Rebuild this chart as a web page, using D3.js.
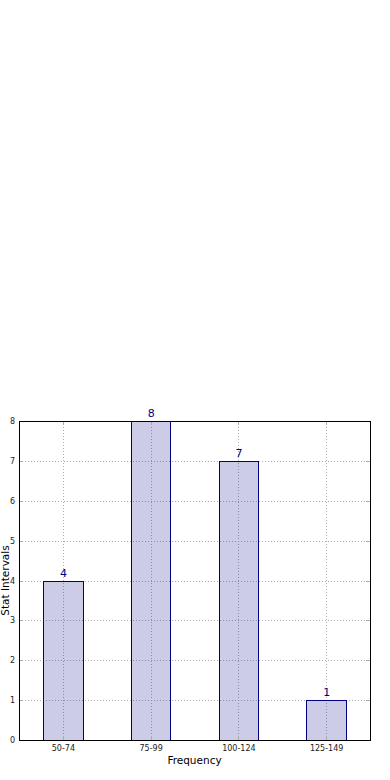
<!DOCTYPE html>
<html>
<head>
<meta charset="utf-8">
<script src="https://cdn.jsdelivr.net/npm/d3@7"></script>
<style>
  body { margin: 0; background: #fff; }
  svg text { font-family: "DejaVu Sans", sans-serif; }
</style>
</head>
<body>
<svg id="chart" width="390" height="780"></svg>
<script>
// Data
const categories = ["50-74", "75-99", "100-124", "125-149"];
const counts = [4, 8, 7, 1];
const yTicks = [0, 1, 2, 3, 4, 5, 6, 7, 8];

const plot = { left: 19, right: 370, top: 421, bottom: 740 };

const svg = d3.select("#chart");

// x positions like a bar chart with xlim -0.5..n-0.5
const x = d3.scaleLinear()
  .domain([-0.5, categories.length - 0.5])
  .range([plot.left, plot.right]);
const barW = 0.45;

const y = d3.scaleLinear().domain([0, 8]).range([plot.bottom, plot.top]);

// grid (under the see-through bars)
const grid = svg.append("g")
  .attr("stroke", "#b0b0b0")
  .attr("stroke-width", 1)
  .attr("stroke-dasharray", "1,2");

grid.selectAll("line.h")
  .data(yTicks)
  .enter()
  .append("line")
  .attr("x1", plot.left)
  .attr("x2", plot.right)
  .attr("y1", (d) => Math.round(y(d)) + 0.5)
  .attr("y2", (d) => Math.round(y(d)) + 0.5);

grid.selectAll("line.v")
  .data(categories)
  .enter()
  .append("line")
  .attr("x1", (d, i) => Math.round(x(i)) + 0.5)
  .attr("x2", (d, i) => Math.round(x(i)) + 0.5)
  .attr("y1", plot.top)
  .attr("y2", plot.bottom);

// bars: navy at 20% fill, solid navy edge
svg.selectAll("rect.bar")
  .data(counts)
  .enter()
  .append("rect")
  .attr("class", "bar")
  .attr("x", (d, i) => Math.round(x(i - barW / 2)) + 0.5)
  .attr("y", (d) => Math.round(y(d)) + 0.5)
  .attr("width", (d, i) => Math.round(x(i + barW / 2)) - Math.round(x(i - barW / 2)))
  .attr("height", (d) => Math.round(y(0)) - Math.round(y(d)))
  .attr("fill", "#000080")
  .attr("fill-opacity", 0.2)
  .attr("stroke", "#000080")
  .attr("stroke-width", 1);

// ticks: inward on all four sides
const ticks = svg.append("g").attr("stroke", "#aaaaaa").attr("stroke-width", 1);
yTicks.forEach((t) => {
  const yy = Math.round(y(t)) + 0.5;
  ticks.append("line").attr("x1", plot.left).attr("x2", plot.left + 4).attr("y1", yy).attr("y2", yy);
  ticks.append("line").attr("x1", plot.right - 4).attr("x2", plot.right).attr("y1", yy).attr("y2", yy);
});
categories.forEach((c, i) => {
  const xx = Math.round(x(i)) + 0.5;
  ticks.append("line").attr("x1", xx).attr("x2", xx).attr("y1", plot.bottom - 4).attr("y2", plot.bottom);
  ticks.append("line").attr("x1", xx).attr("x2", xx).attr("y1", plot.top).attr("y2", plot.top + 4);
});

// frame
svg.append("rect")
  .attr("x", plot.left + 0.5)
  .attr("y", plot.top + 0.5)
  .attr("width", plot.right - plot.left)
  .attr("height", plot.bottom - plot.top)
  .attr("fill", "none")
  .attr("stroke", "#000")
  .attr("stroke-width", 1);

// tick labels
svg.selectAll("text.ylab")
  .data(yTicks)
  .enter()
  .append("text")
  .attr("x", plot.left - 4)
  .attr("y", (d) => y(d) + 3)
  .attr("text-anchor", "end")
  .style("font-size", "8px")
  .style("fill", "#222")
  .text((d) => d);

svg.selectAll("text.xlab")
  .data(categories)
  .enter()
  .append("text")
  .attr("x", (d, i) => x(i) + 0.5)
  .attr("y", plot.bottom + 11)
  .attr("text-anchor", "middle")
  .style("font-size", "8px")
  .style("fill", "#222")
  .text((d) => d);

// value labels
svg.selectAll("text.val")
  .data(counts)
  .enter()
  .append("text")
  .attr("x", (d, i) => x(i) + 0.5)
  .attr("y", (d) => y(d) - 4)
  .attr("text-anchor", "middle")
  .style("font-size", "11px")
  .style("fill", "#000080")
  .text((d) => d);

// axis titles
svg.append("text")
  .attr("x", (plot.left + plot.right) / 2)
  .attr("y", 764)
  .attr("text-anchor", "middle")
  .style("font-size", "10.5px")
  .style("fill", "#000")
  .text("Frequency");

svg.append("text")
  .attr("transform", `translate(8.5, ${(plot.top + plot.bottom) / 2}) rotate(-90)`)
  .attr("text-anchor", "middle")
  .style("font-size", "10.5px")
  .style("fill", "#000")
  .text("Stat Intervals");
</script>
</body>
</html>
